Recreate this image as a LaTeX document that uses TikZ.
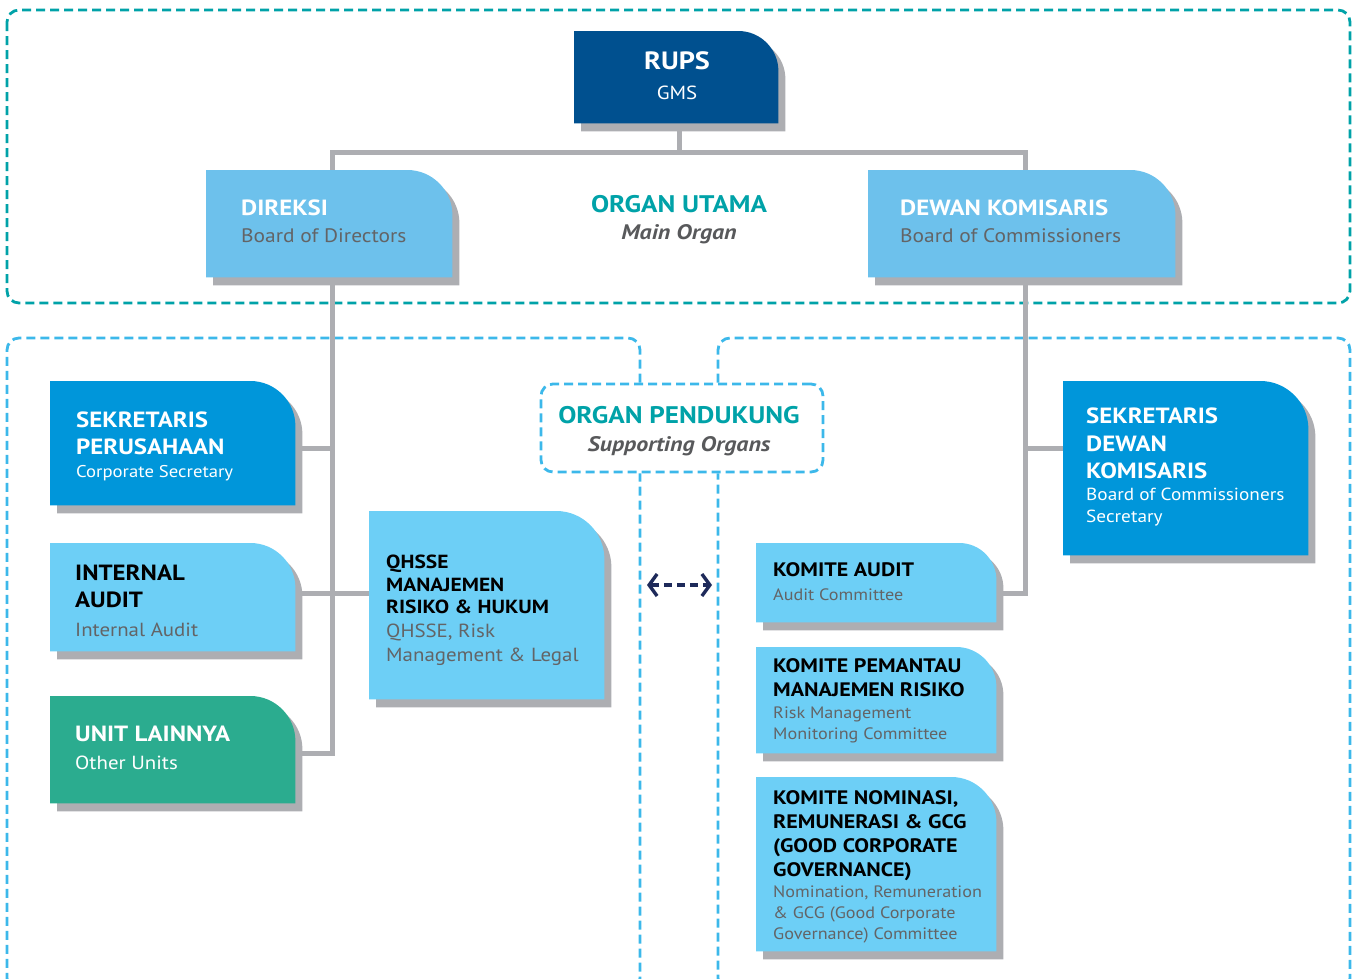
\documentclass[tikz,border=0pt]{standalone}
\usepackage{fontspec}
\setmainfont{PT Sans}[FakeStretch=1.10,BoldFeatures={FakeStretch=1.13},BoldItalicFeatures={FakeStretch=1.14}]
\usetikzlibrary{arrows.meta,calc}

\definecolor{gmsblue}{RGB}{0,80,143}
\definecolor{boardblue}{RGB}{109,193,236}
\definecolor{secblue}{RGB}{0,150,218}
\definecolor{unitblue}{RGB}{109,207,246}
\definecolor{unitgreen}{RGB}{43,172,143}
\definecolor{shadowgray}{RGB}{173,174,178}
\definecolor{organteal}{RGB}{0,162,168}
\definecolor{panelblue}{RGB}{60,184,234}
\definecolor{subgray}{RGB}{99,100,102}
\definecolor{titlegray}{RGB}{88,89,91}
\definecolor{arrownavy}{RGB}{30,42,90}

% box body with shadow, rounded top right corner
\newcommand{\orgshape}[3]{%
	\fill[shadowgray] let \p1=(#1.north west), \p2=(#1.south east) in
		(\x1+7pt,\y2) -- (\x1+7pt,\y1-8pt) -- (\x2-#3,\y1-8pt)
		.. controls (\x2-0.45*#3,\y1-8pt) and (\x2,\y1-8pt-0.45*#3) .. (\x2,\y1-8pt-#3)
		-- (\x2,\y2) -- cycle;
	\fill[#2] let \p1=(#1.north west), \p2=(#1.south east) in
		(\x1,\y2+8pt) -- (\x1,\y1) -- (\x2-7pt-#3,\y1)
		.. controls (\x2-7pt-0.45*#3,\y1) and (\x2-7pt,\y1-0.45*#3) .. (\x2-7pt,\y1-#3)
		-- (\x2-7pt,\y2+8pt) -- cycle;
}

\begin{document}
\begin{tikzpicture}[x=1pt,y=-1pt,
	box/.style={inner sep=0pt,anchor=north west},
	conn/.style={draw=shadowgray,line width=5pt},
	panel/.style={draw=panelblue,line width=2.8pt,dash pattern=on 9pt off 5pt,rounded corners=12pt},
	toppanel/.style={draw=organteal,line width=2.8pt,dash pattern=on 9pt off 5pt,rounded corners=12pt},
	head/.style 2 args={font=\fontsize{#1}{#2}\selectfont\bfseries,align=left,inner sep=0pt},
	sub/.style 2 args={font=\fontsize{#1}{#2}\selectfont,align=left,inner sep=0pt,text=subgray},
	organ/.style={font=\fontsize{24}{28.5}\selectfont\bfseries,text=organteal,align=center,inner sep=0pt}
]
	\path[use as bounding box] (0,0) rectangle (1357,978);
	\clip (0,0) rectangle (1357,978);

	% box frames (body + shadow)
	\node[box,minimum width=211pt,minimum height=100pt] (rups) at (574,31) {};
	\node[box,minimum width=253pt,minimum height=115pt] (direksi) at (206,170) {};
	\node[box,minimum width=314pt,minimum height=115pt] (dekom) at (868,170) {};
	\node[box,minimum width=252pt,minimum height=132pt] (sekper) at (50,381) {};
	\node[box,minimum width=252pt,minimum height=116pt] (intaudit) at (50,543) {};
	\node[box,minimum width=252pt,minimum height=115pt] (unitlain) at (50,696) {};
	\node[box,minimum width=242pt,minimum height=196pt] (qhsse) at (369,511) {};
	\node[box,minimum width=247pt,minimum height=87pt] (komaudit) at (756,543) {};
	\node[box,minimum width=247pt,minimum height=114pt] (kompmr) at (756,647) {};
	\node[box,minimum width=247pt,minimum height=182pt] (komnom) at (756,777) {};
	\node[box,minimum width=252pt,minimum height=182pt] (sekdekom) at (1063,381) {};
	\node[draw=panelblue,line width=2.8pt,dash pattern=on 9pt off 5pt,rounded corners=12pt,
		minimum width=282pt,minimum height=88pt,inner sep=0pt] (pendukung) at (682,428) {};

	\coordinate (bar) at (0,152);
	\coordinate (lvA) at (0,448);
	\coordinate (lvB) at (0,593);
	\coordinate (lvC) at (0,753);
	\coordinate (lpanel) at (640,338);
	\coordinate (rpanel) at (718,338);
	\coordinate (arrL) at (647,585);
	\coordinate (arrR) at (712,585);

	% dashed panels
	\draw[toppanel] (7,10) rectangle (1350,303);
	\draw[panel] (pendukung.north -| lpanel) -- (lpanel) -- (7,338) -- (7,990) -- (640,990) -- (pendukung.south -| lpanel);
	\draw[panel] (pendukung.north -| rpanel) -- (rpanel) -- (1350,338) -- (1350,990) -- (718,990) -- (pendukung.south -| rpanel);

	% connectors
	\draw[conn] (rups.south) -- (rups.south |- bar);
	\draw[conn] (direksi.north) |- (dekom.north |- bar) -- (dekom.north);
	\draw[conn] (direksi.south) |- (unitlain.east |- lvC);
	\draw[conn] (direksi.south |- lvA) -- (sekper.east |- lvA);
	\draw[conn] (intaudit.east |- lvB) -- (qhsse.west |- lvB);
	\draw[conn] (dekom.south) |- (komaudit.east |- lvB);
	\draw[conn] (dekom.south |- lvA) -- (sekdekom.west |- lvA);
	\draw[arrownavy,line width=3.4pt,dash pattern=on 8pt off 5pt,
		{Straight Barb[length=8pt,width=22pt]}-{Straight Barb[length=8pt,width=22pt]}] (arrL) -- (arrR);

	% shapes
	\orgshape{rups}{gmsblue}{40pt}
	\orgshape{direksi}{boardblue}{45pt}
	\orgshape{dekom}{boardblue}{45pt}
	\orgshape{sekper}{secblue}{45pt}
	\orgshape{intaudit}{unitblue}{45pt}
	\orgshape{unitlain}{unitgreen}{45pt}
	\orgshape{qhsse}{unitblue}{48pt}
	\orgshape{komaudit}{unitblue}{37pt}
	\orgshape{kompmr}{unitblue}{40pt}
	\orgshape{komnom}{unitblue}{45pt}
	\orgshape{sekdekom}{secblue}{48pt}

	% texts
	\node[head={25}{30},text=white,anchor=base] (rups-h) at ([shift={(103,38)}]rups.north west) {RUPS};
	\node[sub={19}{23},text=white,anchor=base] (rups-s) at ([shift={(103,68)}]rups.north west) {GMS};

	\node[organ,anchor=base] (utama-h) at (679,212) {ORGAN UTAMA};
	\node[organ,font=\fontsize{21}{26}\selectfont\bfseries\itshape,text=titlegray,anchor=base] (utama-s) at (679,239) {Main Organ};
	\node[organ,anchor=base] (pendukung-h) at (679,423) {ORGAN PENDUKUNG};
	\node[organ,font=\fontsize{21}{26}\selectfont\bfseries\itshape,text=titlegray,anchor=base] (pendukung-s) at (679,451) {Supporting Organs};

	\node[head={22}{27},text=white,anchor=base west] (direksi-h) at ([shift={(35,45)}]direksi.north west) {DIREKSI};
	\node[sub={19.5}{23},anchor=base west] (direksi-s) at ([shift={(35,72)}]direksi.north west) {Board of Directors};
	\node[head={22}{27},text=white,anchor=base west] (dekom-h) at ([shift={(32,45)}]dekom.north west) {DEWAN KOMISARIS};
	\node[sub={19.5}{23},anchor=base west] (dekom-s) at ([shift={(32,72)}]dekom.north west) {Board of Commissioners};

	\node[head={22}{27},text=white,anchor=north west] (sekper-h) at ([shift={(26,31)}]sekper.north west) {SEKRETARIS\\PERUSAHAAN};
	\node[sub={17}{22},text=white,anchor=base west] (sekper-s) at ([shift={(26,96)}]sekper.north west) {Corporate Secretary};
	\node[head={22}{27},anchor=north west] (intaudit-h) at ([shift={(25,22)}]intaudit.north west) {INTERNAL\\AUDIT};
	\node[sub={19}{23},anchor=base west] (intaudit-s) at ([shift={(25,93)}]intaudit.north west) {Internal Audit};
	\node[head={22}{27},text=white,anchor=base west] (unitlain-h) at ([shift={(25,45)}]unitlain.north west) {UNIT LAINNYA};
	\node[sub={19}{23},text=white,anchor=base west] (unitlain-s) at ([shift={(25,73)}]unitlain.north west) {Other Units};
	\node[head={19}{22.3},anchor=north west] (qhsse-h) at ([shift={(17,44)}]qhsse.north west) {QHSSE\\MANAJEMEN\\RISIKO \& HUKUM};
	\node[sub={19}{23.5},anchor=north west] (qhsse-s) at ([shift={(17,113)}]qhsse.north west) {QHSSE, Risk\\Management \& Legal};

	\node[head={19.5}{24},anchor=base west] (komaudit-h) at ([shift={(17,33)}]komaudit.north west) {KOMITE AUDIT};
	\node[sub={16.5}{21},anchor=base west] (komaudit-s) at ([shift={(17,57)}]komaudit.north west) {Audit Committee};
	\node[head={19.5}{24},anchor=north west] (kompmr-h) at ([shift={(17,11)}]kompmr.north west) {KOMITE PEMANTAU\\MANAJEMEN RISIKO};
	\node[sub={16.5}{21},anchor=north west] (kompmr-s) at ([shift={(17,60)}]kompmr.north west) {Risk Management\\Monitoring Committee};
	\node[head={19.5}{24},anchor=north west] (komnom-h) at ([shift={(17,13)}]komnom.north west) {KOMITE NOMINASI,\\REMUNERASI \& GCG\\(GOOD CORPORATE\\GOVERNANCE)};
	\node[sub={16.5}{21},anchor=north west] (komnom-s) at ([shift={(17,109)}]komnom.north west) {Nomination, Remuneration\\\& GCG (Good Corporate\\Governance) Committee};

	\node[head={22}{27.5},text=white,anchor=north west] (sekdekom-h) at ([shift={(23,27)}]sekdekom.north west) {SEKRETARIS\\DEWAN\\KOMISARIS};
	\node[sub={17.5}{22},text=white,anchor=north west] (sekdekom-s) at ([shift={(23,107)}]sekdekom.north west) {Board of Commissioners\\Secretary};
\end{tikzpicture}
\end{document}
